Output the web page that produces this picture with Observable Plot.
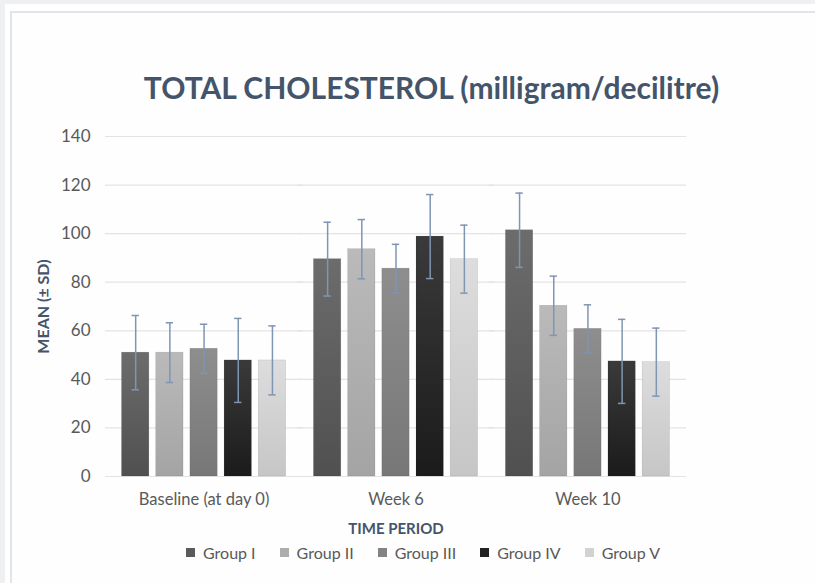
<!DOCTYPE html>
<html>
<head>
<meta charset="utf-8">
<script src="https://cdn.jsdelivr.net/npm/d3@7"></script>
<script src="https://cdn.jsdelivr.net/npm/@observablehq/plot@0.6"></script>
<style>
  html, body { margin: 0; padding: 0; width: 815px; height: 583px; overflow: hidden; background: #eef0f2; font-family: Lato, "Open Sans", sans-serif; }
  #outer { position: absolute; left: 5px; top: 4px; right: 0; bottom: 0; background: #ffffff; }
  #card { position: absolute; left: 10px; top: 11px; right: -4px; bottom: -4px; background: #fefefe; border-left: 2px solid #e2e4e8; border-top: 2px solid #e2e4e8; }
  #chart { position: absolute; left: 0; top: 0; }
  #title { position: absolute; left: 0; width: 863px; top: 69px; text-align: center; font: bold 30px Lato, sans-serif; color: #44546a; white-space: nowrap; }
  #legend { position: absolute; left: 186px; top: 543px; display: flex; align-items: center; font: 16px Lato, sans-serif; color: #595959; white-space: nowrap; }
  #legend .item { display: flex; align-items: center; margin-right: 24px; }
  #legend .sw { width: 9px; height: 9px; margin-right: 8px; }
  svg g[aria-label="fx-axis label"] text { font-weight: bold; fill: #44546a; font-size: 15px; }
  svg g[aria-label="y-axis label"] text { font-weight: bold; fill: #44546a; font-size: 16px; }
  svg g[aria-label="y-axis tick label"] text { font-size: 17px; }
</style>
</head>
<body>
<div id="outer"></div>
<div id="card"></div>
<div id="chart"></div>
<div id="title">TOTAL CHOLESTEROL (milligram/decilitre)</div>
<div id="legend"></div>
<svg width="0" height="0" style="position:absolute">
  <defs id="gradDefs"></defs>
</svg>
<script>
// ---- data ----
const periods = ["Baseline (at day 0)", "Week 6", "Week 10"];
const groups = ["Group I", "Group II", "Group III", "Group IV", "Group V"];
const meanBaseline = [51.0, 51.0, 52.6, 47.8, 47.8];
const sdBaseline   = [15.3, 12.3, 10.1, 17.3, 14.2];
const meanWeek6    = [89.5, 93.6, 85.6, 98.8, 89.5];
const sdWeek6      = [15.2, 12.2, 10.0, 17.3, 14.0];
const meanWeek10   = [101.4, 70.3, 60.8, 47.4, 47.1];
const sdWeek10     = [15.3, 12.2, 9.9, 17.3, 14.0];
const yTicks = [0, 20, 40, 60, 80, 100, 120, 140];

// ---- styles ----
const gradTop    = ["#6c6c6c", "#bababa", "#8e8e8e", "#3a3a3a", "#dddddd"];
const gradBottom = ["#505050", "#a4a4a4", "#777777", "#1b1b1b", "#c6c6c6"];
const swatch     = ["#5a5a5a", "#adadad", "#838383", "#222222", "#d2d2d2"];
const errColor = "#7f95b4";

// gradients
const defs = d3.select("#gradDefs");
groups.forEach((g, i) => {
  const lg = defs.append("linearGradient").attr("id", "grad" + i).attr("x1", 0).attr("y1", 0).attr("x2", 0).attr("y2", 1);
  lg.append("stop").attr("offset", "0%").attr("stop-color", gradTop[i]);
  lg.append("stop").attr("offset", "100%").attr("stop-color", gradBottom[i]);
});
const gradUrls = groups.map((g, i) => `url(#grad${i})`);

const means = [meanBaseline, meanWeek6, meanWeek10];
const sds = [sdBaseline, sdWeek6, sdWeek10];
const data = [];
periods.forEach((p, pi) => groups.forEach((g, gi) => {
  data.push({period: p, group: g, mean: means[pi][gi], sd: sds[pi][gi]});
}));

const outerPad = 16.5;
const chart = Plot.plot({
  width: 815,
  height: 583,
  marginLeft: 105,
  marginRight: 129,
  marginTop: 136,
  marginBottom: 107,
  style: {background: "transparent", color: "#595959", fontFamily: "Lato, sans-serif", fontSize: "16.5px", overflow: "visible"},
  fx: {domain: periods, round: false, paddingInner: 0.145, paddingOuter: 0.086, tickSize: 0, tickPadding: 17, label: "TIME PERIOD", labelAnchor: "center", labelOffset: 57},
  x: {domain: groups, round: false, paddingInner: 0.2, paddingOuter: 0, axis: null},
  y: {domain: [0, 140], ticks: yTicks, tickSize: 0, tickPadding: 15 + outerPad, label: "MEAN (± SD)", labelArrow: "none", labelAnchor: "center", labelOffset: 68 + outerPad, tickFormat: d => String(d)},
  color: {domain: groups, range: gradUrls},
  marks: [
    Plot.ruleY(yTicks, {stroke: "#e3e3e3", strokeWidth: 1.2, insetLeft: -outerPad, insetRight: -outerPad}),
    Plot.barY(data, {fx: "period", x: "group", y: "mean", fill: "group", stroke: "#00000022", strokeWidth: 0.6}),
    Plot.ruleX(data, {fx: "period", x: "group", y1: d => d.mean - d.sd, y2: d => d.mean + d.sd, stroke: errColor, strokeWidth: 1.5}),
    Plot.tickY(data, {fx: "period", x: "group", y: d => d.mean - d.sd, stroke: errColor, strokeWidth: 1.5, inset: 10}),
    Plot.tickY(data, {fx: "period", x: "group", y: d => d.mean + d.sd, stroke: errColor, strokeWidth: 1.5, inset: 10})
  ]
});
document.getElementById("chart").appendChild(chart);

// legend
const legend = d3.select("#legend");
groups.forEach((g, i) => {
  const it = legend.append("div").attr("class", "item");
  it.append("div").attr("class", "sw").style("background", swatch[i]);
  it.append("span").text(g);
});
</script>
</body>
</html>
